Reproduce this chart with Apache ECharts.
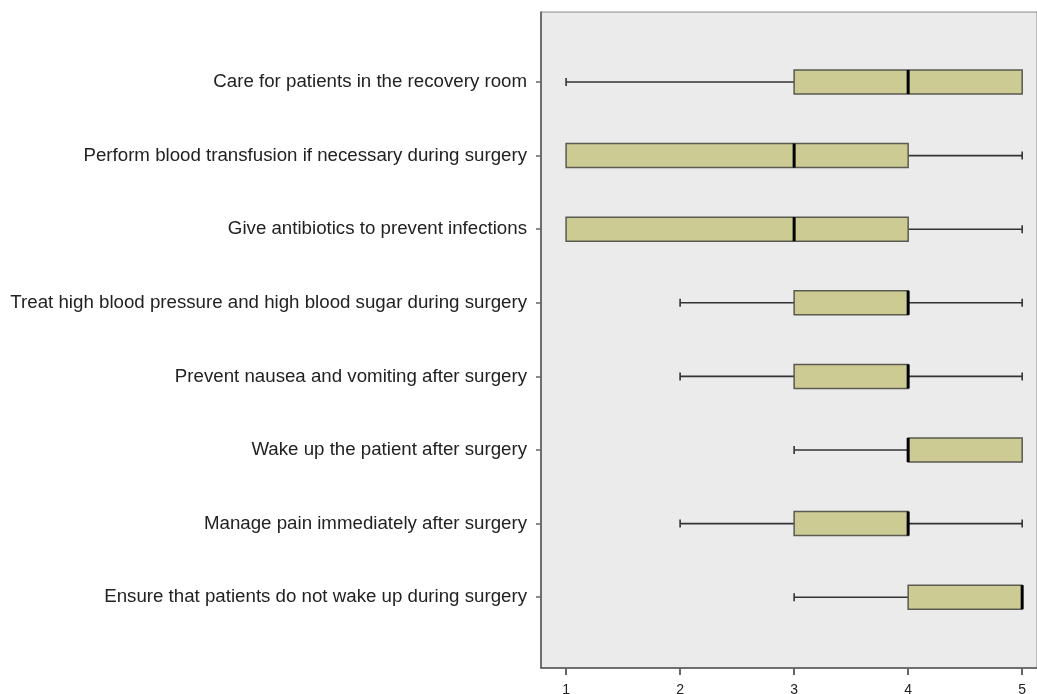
<!DOCTYPE html>
<html>
<head>
<meta charset="utf-8">
<script src="https://cdn.jsdelivr.net/npm/echarts@6/dist/echarts.min.js"></script>
<style>html,body{margin:0;padding:0;background:#fff}#c{width:1037px;height:694px}</style>
</head>
<body>
<div id="c"></div>
<script>
const categories = [
  "Care for patients in the recovery room",
  "Perform blood transfusion if necessary during surgery",
  "Give antibiotics to prevent infections",
  "Treat high blood pressure and high blood sugar during surgery",
  "Prevent nausea and vomiting after surgery",
  "Wake up the patient after surgery",
  "Manage pain immediately after surgery",
  "Ensure that patients do not wake up during surgery"
];
const minValues    = [1, 1, 1, 2, 2, 3, 2, 3];
const q1Values     = [3, 1, 1, 3, 3, 4, 3, 4];
const medianValues = [4, 3, 3, 4, 4, 4, 4, 5];
const q3Values     = [5, 4, 4, 4, 4, 5, 4, 5];
const maxValues    = [5, 5, 5, 5, 5, 5, 5, 5];
const xTicks = [1, 2, 3, 4, 5];

const data = categories.map((c, i) => [i, minValues[i], q1Values[i], medianValues[i], q3Values[i], maxValues[i]]);

const chart = echarts.init(document.getElementById('c'));
const XMIN = 0.78, XMAX = 5.13;

function renderItem(params, api) {
  const cat = api.value(0);
  const mn = api.value(1), q1 = api.value(2), md = api.value(3), q3 = api.value(4), mx = api.value(5);
  const band = api.size([0, 1])[1];
  const half = band * 0.163;
  const cap = 4;
  const p = v => api.coord([v, cat]);
  const y = p(mn)[1];
  const children = [];
  const lineStyle = {stroke: '#333', lineWidth: 1.6};
  if (mn < q1) {
    children.push({type: 'line', shape: {x1: p(mn)[0], y1: y, x2: p(q1)[0], y2: y}, style: lineStyle});
    children.push({type: 'line', shape: {x1: p(mn)[0], y1: y - cap, x2: p(mn)[0], y2: y + cap}, style: lineStyle});
  }
  if (mx > q3) {
    children.push({type: 'line', shape: {x1: p(q3)[0], y1: y, x2: p(mx)[0], y2: y}, style: lineStyle});
    children.push({type: 'line', shape: {x1: p(mx)[0], y1: y - cap, x2: p(mx)[0], y2: y + cap}, style: lineStyle});
  }
  children.push({
    type: 'rect',
    shape: {x: p(q1)[0], y: y - half, width: p(q3)[0] - p(q1)[0], height: half * 2},
    style: {fill: '#cdcb94', stroke: '#5a5a50', lineWidth: 1.5}
  });
  children.push({type: 'line', shape: {x1: p(md)[0], y1: y - half, x2: p(md)[0], y2: y + half}, style: {stroke: '#000', lineWidth: 3}});
  return {type: 'group', children: children};
}

chart.setOption({
  animation: false,
  grid: [
    {left: 541, right: 0, top: 12, bottom: 26, outerBoundsMode: 'none', show: true, backgroundColor: '#ebebeb', borderColor: '#8a8a8a', borderWidth: 1},
    {left: 541, right: 0, top: 45.2, height: 588.8, outerBoundsMode: 'none'}
  ],
  xAxis: [
    {
      type: 'value', gridIndex: 0, min: XMIN, max: XMAX,
      splitLine: {show: false},
      axisLine: {show: true, lineStyle: {color: '#555', width: 1.5}},
      axisTick: {show: true, customValues: xTicks, length: 7, lineStyle: {color: '#666', width: 2}},
      axisLabel: {customValues: xTicks, color: '#222', fontSize: 14, fontFamily: 'Liberation Sans, Arial, sans-serif', margin: 15}
    },
    {type: 'value', gridIndex: 1, min: XMIN, max: XMAX, show: false}
  ],
  yAxis: [
    {
      type: 'value', gridIndex: 0, min: 0, max: 1,
      splitLine: {show: false},
      axisLine: {show: true, lineStyle: {color: '#555', width: 1.5}},
      axisTick: {show: false}, axisLabel: {show: false}
    },
    {
      type: 'category', gridIndex: 1, data: categories, inverse: true,
      axisLine: {show: false},
      axisTick: {show: true, alignWithLabel: true, length: 5, lineStyle: {color: '#666', width: 1.5}},
      axisLabel: {color: '#222', fontSize: 18.7, fontFamily: 'Liberation Sans, Arial, sans-serif', margin: 14}
    }
  ],
  series: [{
    type: 'custom', xAxisIndex: 1, yAxisIndex: 1,
    renderItem: renderItem,
    encode: {y: 0, x: [1, 2, 3, 4, 5]},
    data: data
  }]
});
</script>
</body>
</html>
